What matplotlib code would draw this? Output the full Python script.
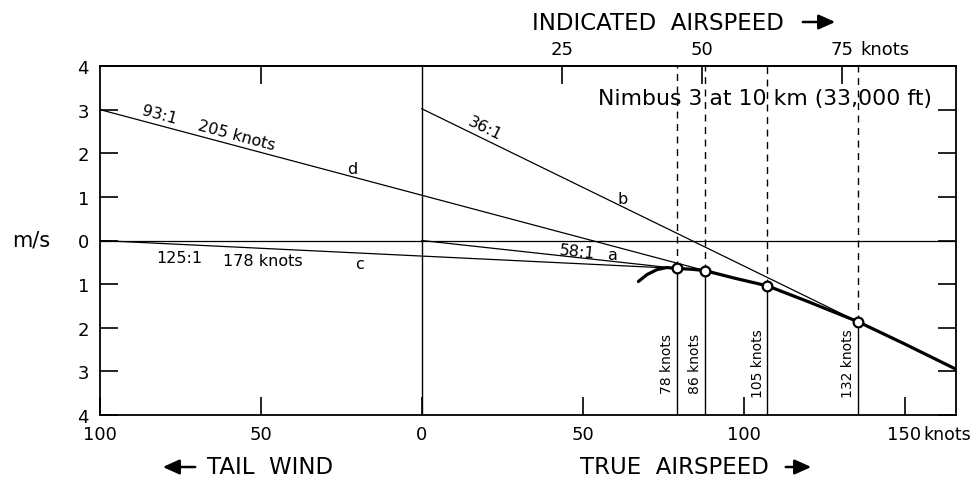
import matplotlib
matplotlib.use("Agg")
import matplotlib.pyplot as plt
from matplotlib.patches import FancyArrowPatch

plt.rcParams['font.family'] = ['DejaVu Sans']

# ---------------- data ----------------
x_ticks = [-100, -50, 0, 50, 100, 150]
x_tick_labels = ['100', '50', '0', '50', '100', '150']
y_ticks = [-4, -3, -2, -1, 0, 1, 2, 3, 4]
y_tick_labels = ['4', '3', '2', '1', '0', '1', '2', '3', '4']
ias_ticks = [25, 50, 75]
ias_tick_labels = ['25', '50', '75']
TAS_PER_IAS = 1.74  # true / indicated airspeed at 10 km

# polar curve (true airspeed knots, sink m/s)
polar_tas = [67.3, 70, 73, 76, 79.3, 84, 88, 97, 107.4, 120, 135.5, 150, 166]
polar_sink = [-0.94, -0.78, -0.67, -0.62, -0.64, -0.66, -0.69, -0.86, -1.04, -1.40, -1.86, -2.37, -2.95]

# tangent points
tangent_tas = [79.3, 88, 107.4, 135.5]
tangent_sink = [-0.64, -0.69, -1.04, -1.86]
tangent_labels = ['78 knots', '86 knots', '105 knots', '132 knots']

# glide lines: start (wind offset, sink offset) to a tangent point
glide_names = ['a', 'b', 'c', 'd']
glide_start_x = [0, 0, -100, -100]
glide_start_y = [0, 3.02, 0, 3.0]
glide_end_point = [0, 3, 0, 1]

# ---------------- figure ----------------
fig = plt.figure(figsize=(9.77, 4.81), dpi=100)
ax = fig.add_axes([100/977, 1-416/481, 856/977, 349/481])
ax.set_xlim(-100, 166)
ax.set_ylim(-4, 4)

for sp in ax.spines.values():
    sp.set_linewidth(1.3)

TICK_FS = 13
ax.set_xticks(x_ticks)
ax.set_xticklabels(x_tick_labels)
ax.set_yticks(y_ticks)
ax.set_yticklabels(y_tick_labels)
ax.tick_params(axis='both', direction='in', length=13, width=1.2, labelsize=TICK_FS)
ax.tick_params(axis='x', pad=7)
ax.tick_params(axis='y', pad=8, right=True)
ax.annotate('knots', xy=(150, 0), xycoords=('data', 'axes fraction'),
            xytext=(13.5, -7), textcoords='offset points', ha='left', va='top', fontsize=12.5)

# top (indicated airspeed) axis
sec = ax.secondary_xaxis('top', functions=(lambda t: t / TAS_PER_IAS, lambda i: i * TAS_PER_IAS))
sec.set_xticks([x_ticks[1] / TAS_PER_IAS] + ias_ticks)
sec.set_xticklabels([''] + ias_tick_labels)
sec.tick_params(direction='in', length=13, width=1.2, labelsize=TICK_FS, pad=6)
sec.spines['top'].set_linewidth(1.3)
ax.annotate('knots', xy=(ias_ticks[-1] * TAS_PER_IAS, 1), xycoords=('data', 'axes fraction'),
            xytext=(13.5, 6), textcoords='offset points', ha='left', va='bottom', fontsize=TICK_FS)

# reference lines
ax.axhline(0, color='black', lw=0.9)
ax.axvline(0, color='black', lw=1.0)

# glide lines
for sx, sy, ei in zip(glide_start_x, glide_start_y, glide_end_point):
    ax.plot([sx, tangent_tas[ei]], [sy, tangent_sink[ei]], color='black', lw=0.9)

# polar
ax.plot(polar_tas, polar_sink, color='black', lw=2.3, solid_capstyle='round')

# tangent verticals
for t, s, lab in zip(tangent_tas, tangent_sink, tangent_labels):
    ax.plot([t, t], [s, -4], color='black', lw=1.0)
    ax.plot([t, t], [s, 4], color='black', lw=1.0, dashes=(5, 4))
    ax.text(t - 0.8, -2.8, lab, rotation=90, ha='right', va='center', fontsize=10)
ax.plot(tangent_tas, tangent_sink, 'o', ms=7, mfc='white', mec='black', mew=1.6, zorder=5)

# line labels
LFS = 11.5
ax.text(-81.4, 2.90, '93:1', rotation=-15, ha='center', va='center', fontsize=LFS, rotation_mode='anchor')
ax.text(-57.7, 2.42, '205 knots', rotation=-15, ha='center', va='center', fontsize=LFS, rotation_mode='anchor')
ax.text(-21.7, 1.66, glide_names[3], ha='center', va='center', fontsize=LFS)
ax.text(19.6, 2.58, '36:1', rotation=-26, ha='center', va='center', fontsize=LFS, rotation_mode='anchor')
ax.text(62.3, 0.97, glide_names[1], ha='center', va='center', fontsize=LFS)
ax.text(48.2, -0.24, '58:1', rotation=-6, ha='center', va='center', fontsize=LFS, rotation_mode='anchor')
ax.text(59.5, -0.31, glide_names[0], ha='center', va='center', fontsize=LFS)
ax.text(-75.4, -0.38, '125:1', ha='center', va='center', fontsize=LFS)
ax.text(-49.5, -0.46, '178 knots', ha='center', va='center', fontsize=LFS)
ax.text(-19.5, -0.52, glide_names[2], ha='center', va='center', fontsize=LFS)

ax.text(106.5, 3.26, 'Nimbus 3 at 10 km (33,000 ft)', ha='center', va='center', fontsize=15.8)

# outer labels
fig.text(31/977, 1-241/481, 'm/s', ha='center', va='center', fontsize=15)
fig.text(532/977, 1-23/481, 'INDICATED  AIRSPEED', ha='left', va='center', fontsize=16.5)
fig.text(580/977, 1-468/481, 'TRUE  AIRSPEED', ha='left', va='center', fontsize=16.5)
fig.text(207/977, 1-468/481, 'TAIL  WIND', ha='left', va='center', fontsize=16.5)
arrow_kw = dict(transform=fig.transFigure, arrowstyle='-|>,head_length=10,head_width=4.5',
                color='black', lw=1.8, mutation_scale=1)
fig.add_artist(FancyArrowPatch((800/977, 1-23/481), (838/977, 1-23/481), **arrow_kw))
fig.add_artist(FancyArrowPatch((783/977, 1-468/481), (814/977, 1-468/481), **arrow_kw))
fig.add_artist(FancyArrowPatch((198/977, 1-468/481), (160/977, 1-468/481), **arrow_kw))

fig.savefig('out.png', dpi=100)
